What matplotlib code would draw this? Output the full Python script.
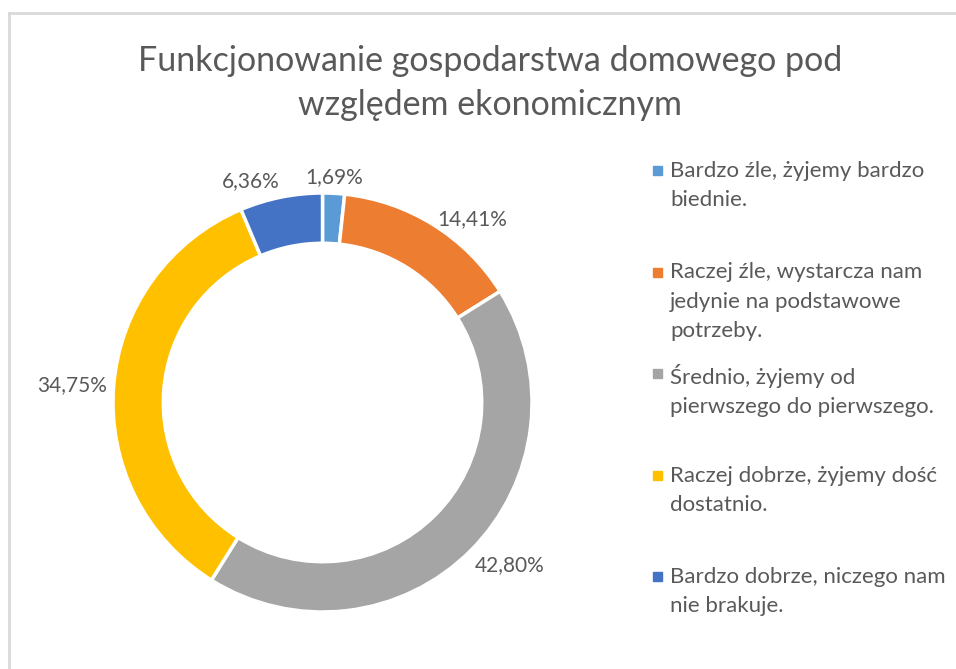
import numpy as np
import matplotlib
matplotlib.use("Agg")
import matplotlib.pyplot as plt
from matplotlib.patches import Rectangle

# data
labels = [
    "Bardzo źle, żyjemy bardzo\nbiednie.",
    "Raczej źle, wystarcza nam\njedynie na podstawowe\npotrzeby.",
    "Średnio, żyjemy od\npierwszego do pierwszego.",
    "Raczej dobrze, żyjemy dość\ndostatnio.",
    "Bardzo dobrze, niczego nam\nnie brakuje.",
]
values = [1.69, 14.41, 42.80, 34.75, 6.36]
colors = ["#5B9BD5", "#ED7D31", "#A5A5A5", "#FFC000", "#4472C4"]
title = "Funkcjonowanie gospodarstwa domowego pod\nwzględem ekonomicznym"

TEXT_COLOR = "#595959"
FONT = ["Lato", "DejaVu Sans"]
plt.rcParams['font.family'] = FONT

W, H = 956, 669
fig = plt.figure(figsize=(W / 100, H / 100), dpi=100)

# chart border (only top and left visible in the crop)
fig.add_artist(plt.Line2D([8.5 / W, 1], [1 - 12.5 / H, 1 - 12.5 / H], color="#D9D9D9", lw=2))
fig.add_artist(plt.Line2D([8.5 / W, 8.5 / W], [0, 1 - 12.5 / H], color="#D9D9D9", lw=2))

fig.text(490 / W, 1 - 83 / H, title, ha="center", va="center", fontsize=24.5,
         color=TEXT_COLOR, linespacing=1.45)

# donut: center (322.5, 402.5), radius 209.5 px
R = 209.5
cx, cy = 322.5, 402.5
ax = fig.add_axes([(cx - R) / W, 1 - (cy + R) / H, 2 * R / W, 2 * R / H])
wedges, _ = ax.pie(values, colors=colors, startangle=90, counterclock=False,
                   radius=1.0, wedgeprops=dict(width=0.24, edgecolor="white", linewidth=2.5))
ax.set_xlim(-1, 1)
ax.set_ylim(-1, 1)
ax.set_aspect("equal")
ax.axis("off")

# data labels outside the ring
total = sum(values)
start = 0.0
for v in values:
    mid = np.deg2rad(start + v / total * 360 / 2)
    start += v / total * 360
    s, c = np.sin(mid), np.cos(mid)
    r = 1.03
    ha = "left" if s > 0.15 else ("right" if s < -0.15 else "center")
    va = "bottom" if c > 0.9 else ("top" if c < -0.3 else "center")
    txt = ("%.2f%%" % v).replace(".", ",")
    ax.text(r * s, r * c, txt, ha=ha, va=va, fontsize=15, color=TEXT_COLOR, clip_on=False)

# legend drawn by hand
leg_x = 653
leg_y0 = 161
leg_step = 101.5
for i, (lab, col) in enumerate(zip(labels, colors)):
    y = leg_y0 + i * leg_step
    fig.add_artist(Rectangle((leg_x / W, 1 - (y + 14) / H), 9 / W, 9 / H,
                             transform=fig.transFigure, color=col))
    fig.text((leg_x + 17) / W, 1 - y / H, lab, ha="left", va="top", fontsize=16,
             color=TEXT_COLOR, linespacing=1.58)

fig.savefig("out.png", dpi=100)
